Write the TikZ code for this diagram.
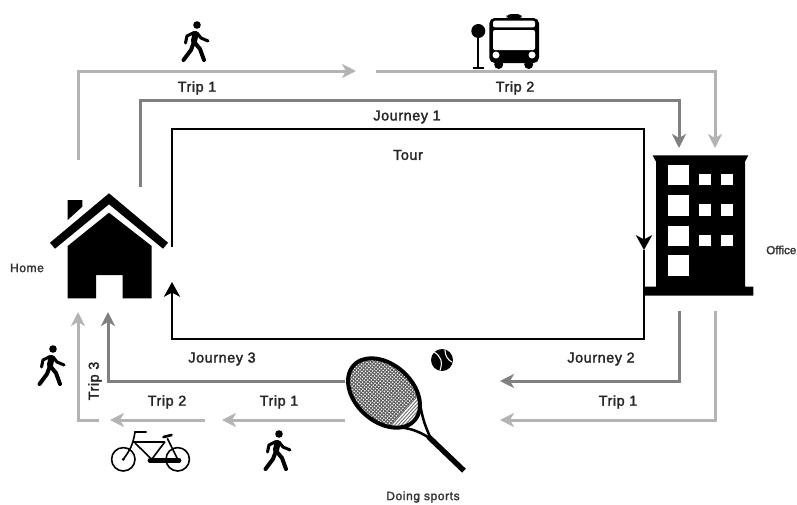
\documentclass[tikz,border=0pt]{standalone}
\usepackage{fontspec}
\setmainfont{Liberation Sans}
\newfontfamily\lblfont{Liberation Sans}[LetterSpace=4,RawFeature={embolden=2}]
\newfontfamily\placefont{Liberation Sans}[LetterSpace=5,RawFeature={embolden=2}]
\newfontfamily\edgefont{Liberation Sans}[RawFeature={embolden=2}]
\usetikzlibrary{arrows.meta}
\definecolor{triplight}{HTML}{B3B3B3}
\definecolor{journeydark}{HTML}{808080}

\begin{document}
\begin{tikzpicture}[
    x=.75pt, y=-.75pt,
    trip/.style={triplight, line width=2.25pt, -{Stealth[length=10.5pt,width=10.5pt,inset=3pt]}},
    journey/.style={journeydark, line width=2.25pt, -{Stealth[length=10.5pt,width=10.5pt,inset=3pt]}},
    tour/.style={black, line width=2pt, -{Stealth[length=11pt,width=12pt,inset=3pt]}},
    lbl/.style={font=\lblfont\fontsize{10.8pt}{12pt}\selectfont, text=black!85, inner sep=0pt},
    placelbl/.style={font=\placefont\fontsize{9pt}{11pt}\selectfont, text=black!80, inner sep=0pt},
    edgelbl/.style={font=\edgefont\fontsize{8.7pt}{11pt}\selectfont, text=black!80, inner sep=0pt},
    limb/.style={line width=2.3pt, line cap=round, line join=round}
]
\useasboundingbox (0,0) rectangle (797,504);

\newcommand{\walker}[2]{%
    \begin{scope}[shift={(#1,#2)}]
        \fill (0,0) circle (3.8);
        \draw[limb, line width=4.6pt] (-1.5,9) -- (-3,16);
        \draw[limb] (-3,7.5) -- (-10,11) -- (-11.5,18);
        \draw[limb] (0,8) -- (4,13) -- (11,16);
        \draw[limb, line width=3pt] (-3,17) -- (-6,25) -- (-13.5,35);
        \draw[limb, line width=3pt] (-2,18) -- (3,24) -- (7,35);
    \end{scope}
}

% end points of the connectors
\coordinate (homeL) at (78,160);
\coordinate (homeD) at (140,187);
\coordinate (homeT) at (172,247);
\coordinate (homeIn) at (172,282);
\coordinate (homeInD) at (108,312);
\coordinate (homeInL) at (78,312);
\coordinate (midA) at (356,71);
\coordinate (midB) at (376,71);
\coordinate (officeD) at (679,148);
\coordinate (officeL) at (715,148);
\coordinate (officeOutD) at (679,311);
\coordinate (officeOutL) at (715,311);
\coordinate (officeMid) at (644,250);
\coordinate (sportsD) at (500,381);
\coordinate (sportsL) at (500,420);
\coordinate (sportsOutD) at (345,381);
\coordinate (sportsOutL) at (345,420);
\coordinate (bikeR) at (222,420);
\coordinate (bikeL) at (205,420);
\coordinate (bikeEnd) at (110,420);
\coordinate (tripEnd) at (99,420);

% trips
\draw[trip] (homeL) |- (midA);
\draw[trip] (midB) -| (officeL);
\draw[trip] (officeOutL) |- (sportsL);
\draw[trip] (sportsOutL) -- (bikeR);
\draw[trip] (bikeL) -- (bikeEnd);
\draw[trip] (tripEnd) -| (homeInL);

% journeys
\draw[journey] (homeD) |- (400,100) -| (officeD);
\draw[journey] (officeOutD) |- (sportsD);
\draw[journey] (sportsOutD) -| (homeInD);

% tour
\draw[tour] (homeT) |- (400,129) -| (officeMid);
\draw[tour] (officeMid) |- (400,339) -| (homeIn);

% house
\fill (50,242.7) -- (109,193.3) -- (168,242.7) -- (163,248.7) -- (109,204.3) -- (55,248.7) -- cycle;
\fill (67.7,246) -- (109,212.7) -- (151.7,246) -- (151.7,298.3) -- (122.7,298.3) -- (122.7,275)
    -- (96,275) -- (96,298.3) -- (67.7,298.3) -- cycle;
\fill (67.7,200) -- (82.3,200) -- (82.3,206.7) -- (67.7,220) -- cycle;

% office
\fill (652.7,155.3) -- (748.3,155.3) -- (745,161.7) -- (745,286.7) -- (753.3,286.7) -- (753.3,295.7)
    -- (645,295.7) -- (645,286.7) -- (656,286.7) -- (656,161.7) -- cycle;
\foreach \y/\h in {164.7/20.3,195/20.7,225.7/20,255/20.7}{
    \fill[white] (668.3,\y) rectangle ++(20.7,\h);
}
\foreach \y in {174,204.3,234.7}{
    \fill[white] (699.3,\y) rectangle ++(11.7,11.3);
    \fill[white] (721.3,\y) rectangle ++(11.4,11.3);
}

% bus stop and bus
\fill (478.3,31) circle (7);
\draw[line width=1.4pt] (478.3,31) -- (478.3,67);
\draw[line width=1.4pt] (473,68) -- (483.5,68);
\fill[rounded corners=3pt] (506.7,19) -- (506.7,14) -- (521.7,14) -- (521.7,19) -- cycle;
\foreach \x in {498.7,528.7}{
    \fill (\x,64.5) circle (4.5);
}
\fill[rounded corners=4pt] (489.3,18) rectangle (539,63);
\fill[white, rounded corners=1.5pt] (493,20.7) rectangle (535,27.3);
\fill[white, rounded corners=1.5pt] (493,30) rectangle (535,50);
\foreach \x in {496,532}{
    \fill[white] (\x,55) circle (3.5);
}

% bicycle
\begin{scope}[line width=1.2pt]
    \draw (123.3,459.3) circle (11.7);
    \draw (177.7,459.3) circle (11.7);
    \draw (146.7,432) -- (135,432) .. controls (133,445) and (130,450) .. (123.3,459.3);
    \draw (131.7,441.7) -- (165,441.7);
    \draw (135,443) -- (151.7,459.3) -- (165,441.7);
    \draw (167.3,438.3) -- (177.7,459.3);
    \draw[line width=2pt, line cap=round] (163.5,437) -- (171.5,435);
    \draw[line width=3.6pt, line cap=round] (150,460.7) -- (179,460.7);
\end{scope}
\fill (123.3,459.3) circle (1.5);

% racket
\begin{scope}[rotate around={-42:(384,393)}]
    \begin{scope}
        \clip (384,393) ellipse [x radius=41, y radius=28.5];
        \foreach \u in {-42,-39.5,...,42}{
            \draw[line width=.7pt, black!65] (384+\u,350) -- (384+\u,436);
        }
        \foreach \v in {-30,-27.5,...,30}{
            \draw[line width=.7pt, black!65] (340,393+\v) -- (411,393+\v);
        }
        \fill[white] (411,350) rectangle (430,436);
        \foreach \u in {27,29.5,...,42}{
            \draw[line width=.7pt, black!55] (384+\u,350) -- (384+\u,436);
        }
    \end{scope}
    \draw[line width=3pt] (384,393) ellipse [x radius=41, y radius=28.5];
\end{scope}
\draw[line width=1.9pt] (420,403) .. controls (422,418) and (426,428) .. (431,439);
\draw[line width=1.9pt] (398.3,427.3) .. controls (412,428) and (422,433) .. (431,439);
\draw[line width=4pt] (428.5,436.7) -- (464,470.7);

% ball
\fill (442,360) circle (11);
\draw[white, line width=.8pt] (434,352) .. controls (441,356) and (443,362) .. (440,370.5);
\draw[white, line width=.8pt] (445,350) .. controls (445,356) and (448,360) .. (452,362);

% walkers
\walker{197}{25}
\walker{53}{349}
\walker{279}{434}

% labels
\node[lbl] (tripTopA) at (197,88) {Trip 1};
\node[lbl] (tripTopB) at (515,88) {Trip 2};
\node[lbl] (journeyA) at (407,117) {Journey 1};
\node[lbl] (tourLbl) at (408,155) {Tour};
\node[lbl] (journeyC) at (222,359) {Journey 3};
\node[lbl] (journeyB) at (601,359) {Journey 2};
\node[lbl] (tripRight) at (618,402) {Trip 1};
\node[lbl] (tripBotA) at (279,402) {Trip 1};
\node[lbl] (tripBotB) at (167,402) {Trip 2};
\node[lbl, rotate=90] (tripBotC) at (95,381) {Trip 3};
\node[placelbl] (homeLbl) at (27,268) {Home};
\node[edgelbl, anchor=west] (officeLbl) at (766,250) {Office};
\node[placelbl] (sportsLbl) at (423,497) {Doing sports};

\end{tikzpicture}
\end{document}
